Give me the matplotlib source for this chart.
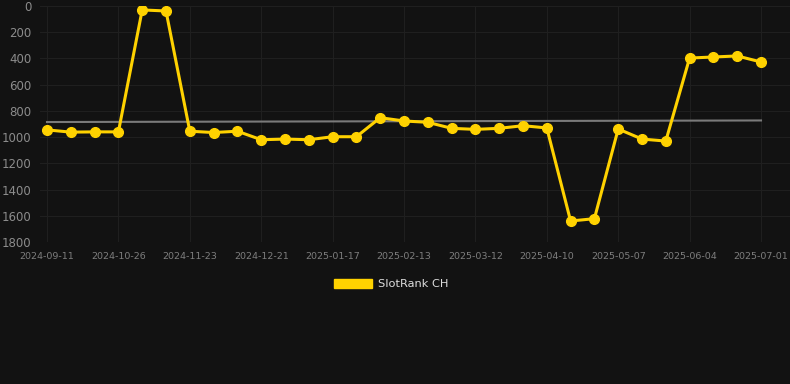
import matplotlib
matplotlib.use("Agg")
from matplotlib import pyplot as plt
from matplotlib.patches import Patch

# rank per snapshot (lower is better), 31 points
ranks = [945, 962, 960, 960, 30, 38, 955, 965, 955, 1020,
         1015, 1020, 997, 997, 852, 877, 887, 933, 941, 933,
         913, 930, 1640, 1622, 938, 1015, 1030, 397, 389, 381,
         427]
# labels shown on every third point
tick_labels = ['2024-09-11', '2024-10-26', '2024-11-23', '2024-12-21',
               '2025-01-17', '2025-02-13', '2025-03-12', '2025-04-10',
               '2025-05-07', '2025-06-04', '2025-07-01']
trend = [885, 873]  # grey reference line, start and end
series_name = 'SlotRank CH'

bg = '#121212'
yellow = '#FFD200'

fig = plt.figure(figsize=(7.9, 3.84), dpi=100, facecolor=bg)
ax = fig.add_axes([40 / 790, 1 - 242 / 384, 750 / 790, 236 / 384])
ax.set_facecolor(bg)

x = list(range(len(ranks)))
ax.plot([0, len(ranks) - 1], trend, color='#7a7a7a', lw=1.5, zorder=2)
ax.plot(x, ranks, color=yellow, lw=2.2, marker='o', ms=7, zorder=3)

ax.set_ylim(1800, 0)
ax.set_yticks(range(0, 1801, 200))
ax.set_xlim(-7 / 23.8, 30 + 29 / 23.8)
ax.set_xticks(range(0, len(ranks), 3))
ax.set_xticklabels(tick_labels)

ax.grid(True, color='#1f1f1f', lw=0.8)
ax.set_axisbelow(True)
for s in ax.spines.values():
    s.set_visible(False)
ax.tick_params(axis='y', length=0, pad=6, labelsize=8.5, labelcolor='#8c8c8c')
ax.tick_params(axis='x', length=0, pad=7, labelsize=6.8, labelcolor='#7e7e7e')

fig.legend(handles=[Patch(facecolor=yellow, edgecolor=yellow)], labels=[series_name],
           loc='center', bbox_to_anchor=(0.495, 1 - 284 / 384), frameon=False,
           handlelength=3.4, handleheight=0.8, handletextpad=0.5,
           fontsize=8.2, labelcolor='#dddddd')

fig.savefig('out.png', dpi=100, facecolor=bg)
